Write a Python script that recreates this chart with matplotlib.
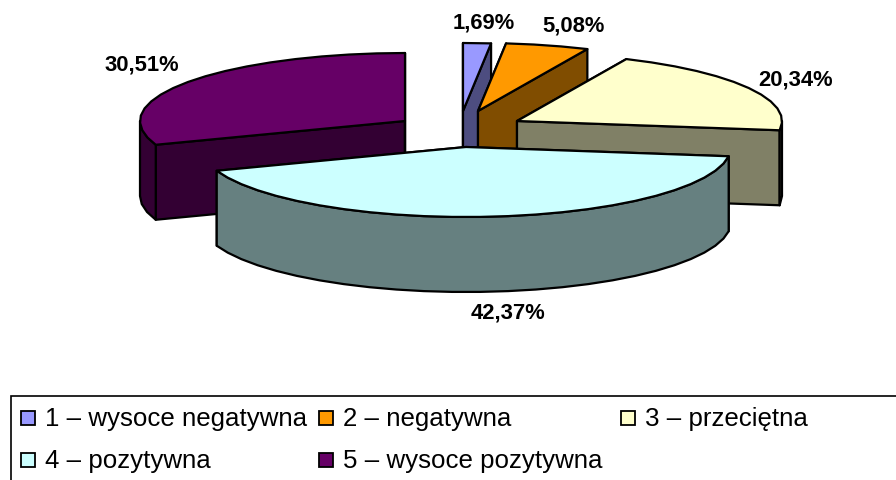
import numpy as np
import matplotlib
matplotlib.use('Agg')
import matplotlib.pyplot as plt
from matplotlib.patches import Polygon, Rectangle

labels = ['1 – wysoce negatywna', '2 – negatywna', '3 – przeciętna',
          '4 – pozytywna', '5 – wysoce pozytywna']
values = [1.69, 5.08, 20.34, 42.37, 30.51]
value_text = ['1,69%', '5,08%', '20,34%', '42,37%', '30,51%']
top_colors = ['#9999FF', '#FF9900', '#FFFFCC', '#CCFFFF', '#660066']
side_colors = ['#4D4D80', '#804D00', '#808066', '#668080', '#330033']

# layout in pixels of the picture
centers = [(463, 112), (478, 112), (517, 122), (466, 148), (405, 122)]
label_pos = [(484, 23), (574, 26), (796, 80), (508, 313), (142, 65)]
legend_pos = [(20, 419), (318, 419), (620, 419), (20, 461), (318, 461)]
rx, ry_back, ry_front, depth = 265, 68, 70, 75

plt.rcParams['font.family'] = ['Liberation Sans', 'DejaVu Sans']

fig = plt.figure(figsize=(8.96, 4.81), dpi=100)
ax = fig.add_axes([0, 0, 1, 1])
ax.set_xlim(0, 896)
ax.set_ylim(481, 0)
ax.axis('off')


def rim(cx, cy, a0, a1):
    # angles in degrees, clockwise from 12 o'clock, coarse steps like the original
    n = max(int((a1 - a0) / 6), 1)
    t = np.radians(np.linspace(a0, a1, n + 1))
    c = np.cos(t)
    return np.column_stack([cx + rx * np.sin(t),
                            cy - np.where(c > 0, ry_back, ry_front) * c])


def face(pts, color, z):
    ax.add_patch(Polygon(pts, closed=True, facecolor=color, edgecolor='black',
                         linewidth=1.6, joinstyle='round', zorder=z))


def draw_slice(i, a0, a1, z):
    cx, cy = centers[i]
    edge = rim(cx, cy, a0, a1)
    down = np.array([0, depth])
    apex = np.array([cx, cy])
    # the two cut faces
    for p in (edge[0], edge[-1]):
        face([apex, p, p + down, apex + down], side_colors[i], z)
    # outer wall, only the part facing the viewer
    w0, w1 = max(a0, 90), min(a1, 270)
    if w1 > w0:
        wall = rim(cx, cy, w0, w1)
        face(np.vstack([wall, (wall + down)[::-1]]), side_colors[i], z + 0.1)
    face(np.vstack([apex, edge]), top_colors[i], z + 0.2)


bounds = np.concatenate([[0], np.cumsum(values)]) / sum(values) * 360
draw_order = [0, 1, 4, 2, 3]
for z, i in enumerate(draw_order):
    draw_slice(i, bounds[i], bounds[i + 1], z + 1)

for i, txt in enumerate(value_text):
    ax.text(label_pos[i][0], label_pos[i][1], txt, fontsize=15.8, fontweight='bold',
            ha='center', va='center', zorder=10)

# legend box runs off the right side of the picture
ax.add_patch(Rectangle((11, 396.5), 900, 90, facecolor='white', edgecolor='black',
                       linewidth=1.2, zorder=11))
for i, name in enumerate(labels):
    x, y = legend_pos[i]
    ax.add_patch(Rectangle((x + 1, y - 7), 14, 14, facecolor=top_colors[i],
                           edgecolor='black', linewidth=1.3, zorder=12))
    ax.text(x + 25, y, name, fontsize=18.6, ha='left', va='center', zorder=12)

plt.savefig('out.png', dpi=100)
